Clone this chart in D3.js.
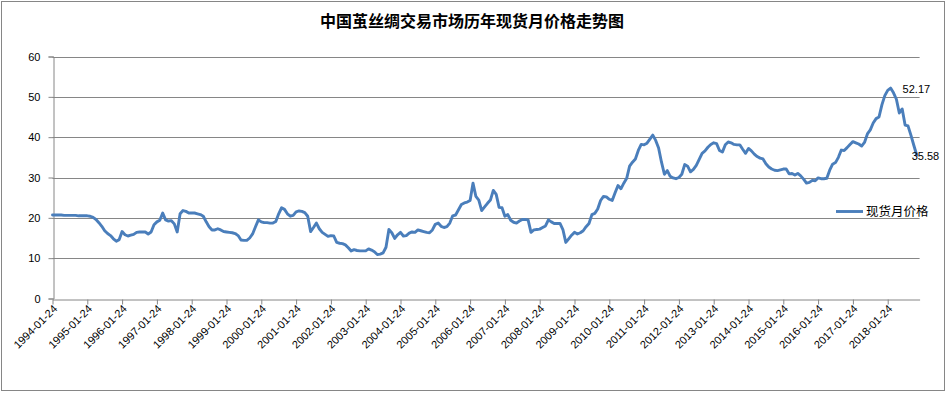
<!DOCTYPE html>
<html><head><meta charset="utf-8">
<script src="https://cdn.jsdelivr.net/npm/d3@7"></script>
<style>
html,body{margin:0;padding:0;background:#fff;}
svg{display:block;}
</style></head>
<body>
<svg id="chart" width="947" height="393"></svg>
<script>
const title = "中国茧丝绸交易市场历年现货月价格走势图";
const seriesName = "现货月价格";
const startYear = 1994;
const categoryCount = 300; // monthly categories 1994-01 .. 2018-12
const tickLabels = ["1994-01-24","1995-01-24","1996-01-24","1997-01-24","1998-01-24","1999-01-24","2000-01-24","2001-01-24","2002-01-24","2003-01-24","2004-01-24","2005-01-24","2006-01-24","2007-01-24","2008-01-24","2009-01-24","2010-01-24","2011-01-24","2012-01-24","2013-01-24","2014-01-24","2015-01-24","2016-01-24","2017-01-24","2018-01-24"];
const yTicks = [0,10,20,30,40,50,60];
// monthly spot price, 1994-01 .. 2018-11
const prices = [
20.7,20.7,20.7,20.7,20.6,20.6,20.6,20.6,20.6,20.5,20.5,20.5,
20.5,20.4,20.1,19.6,18.8,17.9,16.8,16.1,15.6,14.8,14.2,14.6,
16.6,15.8,15.5,15.7,15.9,16.4,16.5,16.5,16.5,16.0,16.5,18.3,
19.0,19.4,21.2,19.5,19.2,19.3,18.5,16.5,21.0,21.8,21.6,21.2,
21.2,21.2,21.0,20.8,20.4,19.0,17.8,17.0,17.0,17.3,17.0,16.6,
16.5,16.4,16.3,16.1,15.6,14.5,14.4,14.4,15.0,16.0,17.8,19.5,
19.0,18.8,18.8,18.7,18.7,19.1,21.0,22.5,22.1,21.0,20.4,20.6,
21.5,21.7,21.6,21.3,20.4,16.6,17.6,18.7,17.3,16.4,15.9,15.4,
15.6,15.5,13.9,13.7,13.6,13.3,12.6,11.8,12.1,11.9,11.8,11.8,
11.8,12.3,12.0,11.6,10.9,11.0,11.3,12.7,17.1,16.3,14.9,15.8,
16.4,15.5,15.6,16.2,16.5,16.4,17.0,16.8,16.6,16.4,16.3,17.0,
18.4,18.7,17.9,17.6,17.8,18.7,20.5,20.7,22.0,23.3,23.7,23.9,
24.3,28.6,25.3,24.4,21.8,22.7,23.6,24.4,26.8,25.8,22.6,22.5,
20.4,20.8,19.4,18.9,18.7,19.2,19.6,19.6,19.5,16.4,17.0,17.1,
17.2,17.6,18.0,19.5,19.0,18.6,18.6,18.6,17.1,13.9,14.8,15.7,
16.4,16.0,16.3,16.8,17.8,18.6,20.8,21.1,22.2,24.3,25.3,25.2,
24.6,24.3,26.2,28.0,27.2,28.6,29.8,32.8,33.8,34.6,36.7,38.2,
38.1,38.5,39.5,40.5,39.2,37.3,33.8,30.8,31.7,30.3,29.9,29.7,
30.0,30.8,33.2,32.8,31.4,32.0,33.0,34.5,36.0,36.6,37.5,38.2,
38.6,38.4,36.7,36.3,38.1,38.8,38.6,38.2,38.1,38.1,37.0,36.0,
37.2,36.6,35.8,35.2,34.8,34.6,33.4,32.6,32.1,31.8,31.7,31.9,
32.1,32.1,30.9,31.0,30.6,31.0,30.4,29.6,28.6,28.8,29.3,29.2,
29.9,29.7,29.7,29.8,31.8,33.3,33.7,35.0,36.8,36.7,37.4,38.2,
38.9,38.6,38.3,37.8,38.7,40.8,41.8,43.5,44.6,45.0,48.0,50.3,
51.6,52.17,51.0,49.4,46.0,47.0,43.0,42.8,40.5,38.0,35.58
];

const svg = d3.select("#chart");
const axisColor = "#868686";
const lineColor = "#4a7ebb";
const axisFont = "'Liberation Sans', Arial, sans-serif";
const cjkFont = "'Noto Sans CJK SC', sans-serif";

// frame
svg.append("rect").attr("x",1.5).attr("y",1.5).attr("width",943).attr("height",389)
  .attr("fill","#fff").attr("stroke",axisColor).attr("stroke-width",1);

const x = d3.scaleLinear().domain([0, categoryCount - 1]).range([52.5, 919.6]);
const y = d3.scaleLinear().domain([0, 60]).range([298.5, 56.5]);

// title
svg.append("text").attr("x",472).attr("y",27).attr("text-anchor","middle")
  .attr("font-family",cjkFont).attr("font-size",16).attr("font-weight","bold")
  .attr("fill","#000").text(title);

// gridlines
svg.append("g").selectAll("line").data(yTicks.filter(d=>d>0)).join("line")
  .attr("x1",x(0)).attr("x2",x(categoryCount-1))
  .attr("y1",d=>Math.round(y(d))+0.5).attr("y2",d=>Math.round(y(d))+0.5)
  .attr("stroke",axisColor).attr("stroke-width",1);

// y axis
const yAxis = d3.axisLeft(y).tickValues(yTicks).tickSize(5).tickPadding(8).tickFormat(d3.format("d"));
const gy = svg.append("g").attr("transform",`translate(${Math.round(x(0))+0.5},0)`).call(yAxis);
gy.select(".domain").attr("stroke",axisColor);
gy.selectAll(".tick line").attr("stroke",axisColor);
gy.selectAll(".tick text").attr("font-family",axisFont).attr("font-size",11).attr("fill","#000");

// x axis
const tickIdx = tickLabels.map((d,i)=>i*12);
const xAxis = d3.axisBottom(x).tickValues(tickIdx).tickSize(5).tickSizeOuter(0)
  .tickFormat((d,i)=>tickLabels[i]);
const gx = svg.append("g").attr("transform",`translate(0,${Math.round(y(0))+0.5})`).call(xAxis);
gx.select(".domain").attr("stroke",axisColor);
gx.selectAll(".tick line").attr("stroke",axisColor);
gx.selectAll(".tick text").attr("font-family",axisFont).attr("font-size",11).attr("fill","#000")
  .attr("text-anchor","end").attr("dy",0).attr("y",0)
  .attr("transform","translate(5,10) rotate(-45)");

// line
const line = d3.line().x((d,i)=>x(i)).y(d=>y(d));
svg.append("path").datum(prices).attr("d",line).attr("fill","none")
  .attr("stroke",lineColor).attr("stroke-width",2.9)
  .attr("stroke-linejoin","round").attr("stroke-linecap","round");

// data labels
const maxI = d3.maxIndex(prices);
const lastI = prices.length - 1;
svg.append("text").attr("x",x(maxI)+12).attr("y",y(prices[maxI])+4.5)
  .attr("font-family",axisFont).attr("font-size",11).attr("fill","#000").text(prices[maxI].toFixed(2));
svg.append("text").attr("x",x(lastI)-5).attr("y",y(prices[lastI])+5)
  .attr("font-family",axisFont).attr("font-size",11).attr("fill","#000").text(prices[lastI].toFixed(2));

// legend
const lg = svg.append("g").attr("transform","translate(836,211.5)");
lg.append("line").attr("x1",0).attr("x2",27).attr("y1",0).attr("y2",0)
  .attr("stroke",lineColor).attr("stroke-width",2.9);
lg.append("text").attr("x",30).attr("y",4.5).attr("font-family",cjkFont).attr("font-size",12.5)
  .attr("fill","#000").text(seriesName);
</script>
</body></html>
